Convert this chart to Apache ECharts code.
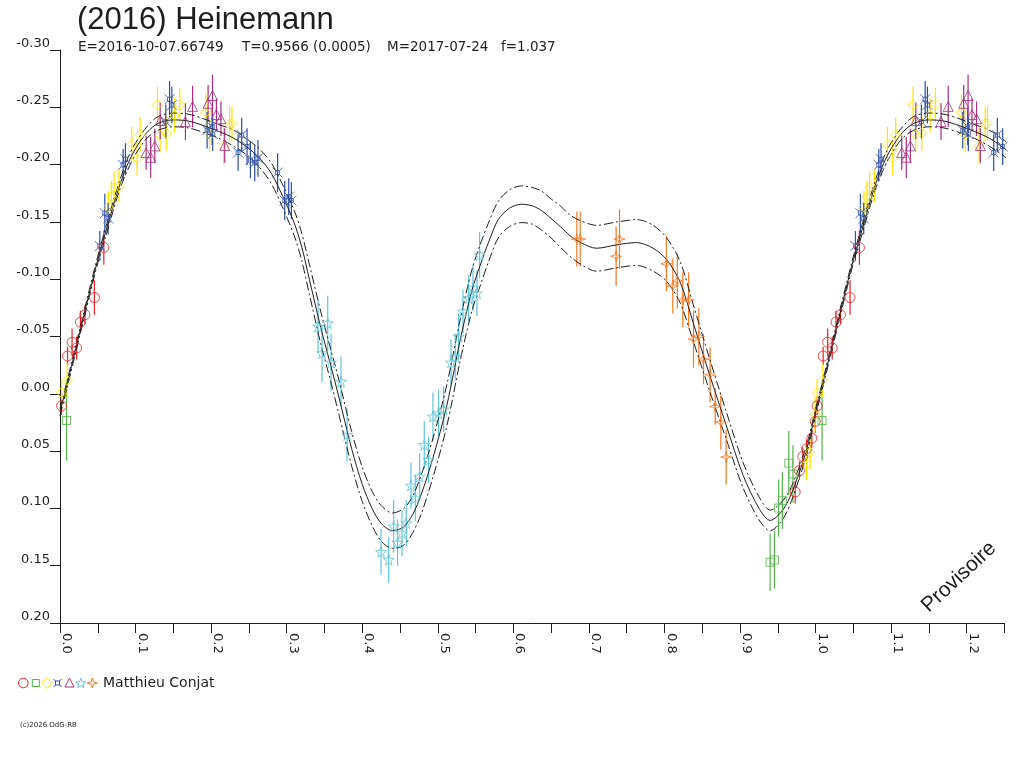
<!DOCTYPE html>
<html><head><meta charset="utf-8">
<script src="https://cdn.jsdelivr.net/npm/echarts/dist/echarts.min.js"></script>
<style>html,body{margin:0;padding:0;background:#fff}#c{width:1024px;height:768px}</style>
</head><body><div id="c"></div>
<script>
// ---- fitted light curve (phase, magnitude) ----
const curvePhase = [0.000,0.010,0.020,0.030,0.040,0.050,0.060,0.070,0.080,0.090,0.100,0.115,0.130,0.150,0.170,0.190,0.210,0.230,0.250,0.265,0.280,0.295,0.310,0.320,0.330,0.345,0.357,0.368,0.386,0.400,0.413,0.425,0.440,0.455,0.467,0.478,0.494,0.512,0.530,0.545,0.556,0.567,0.580,0.595,0.611,0.625,0.637,0.650,0.662,0.675,0.689,0.710,0.737,0.763,0.785,0.803,0.821,0.838,0.860,0.882,0.904,0.926,0.940,0.957,0.970,0.988,1.000];
const curveMid   = [0.016,-0.010,-0.037,-0.064,-0.091,-0.117,-0.140,-0.163,-0.184,-0.201,-0.214,-0.228,-0.236,-0.239,-0.238,-0.234,-0.229,-0.223,-0.214,-0.205,-0.192,-0.172,-0.149,-0.128,-0.100,-0.058,-0.028,0.000,0.048,0.079,0.100,0.113,0.1195,0.116,0.105,0.088,0.055,0.010,-0.048,-0.090,-0.112,-0.132,-0.152,-0.162,-0.1654,-0.164,-0.160,-0.153,-0.146,-0.138,-0.132,-0.127,-0.130,-0.132,-0.127,-0.117,-0.097,-0.062,-0.016,0.028,0.071,0.101,0.1105,0.101,0.084,0.049,0.016];
const curveUpper = [0.013,-0.013,-0.040,-0.067,-0.094,-0.120,-0.144,-0.167,-0.188,-0.206,-0.219,-0.233,-0.242,-0.245,-0.244,-0.240,-0.235,-0.230,-0.221,-0.213,-0.201,-0.182,-0.160,-0.140,-0.113,-0.072,-0.042,-0.015,0.033,0.064,0.085,0.0975,0.104,0.100,0.089,0.071,0.038,-0.008,-0.066,-0.108,-0.130,-0.149,-0.168,-0.178,-0.1814,-0.180,-0.177,-0.170,-0.164,-0.156,-0.151,-0.147,-0.150,-0.152,-0.147,-0.136,-0.115,-0.078,-0.030,0.016,0.060,0.091,0.1015,0.093,0.078,0.045,0.013];
const curveLower = [0.019,-0.007,-0.034,-0.061,-0.088,-0.114,-0.136,-0.159,-0.180,-0.196,-0.209,-0.223,-0.230,-0.233,-0.232,-0.228,-0.223,-0.216,-0.207,-0.197,-0.183,-0.162,-0.138,-0.116,-0.087,-0.044,-0.014,0.015,0.063,0.094,0.115,0.1285,0.135,0.132,0.121,0.105,0.072,0.028,-0.030,-0.072,-0.094,-0.115,-0.136,-0.146,-0.1494,-0.148,-0.143,-0.136,-0.128,-0.120,-0.113,-0.107,-0.110,-0.112,-0.107,-0.098,-0.079,-0.046,-0.002,0.040,0.082,0.111,0.1195,0.109,0.090,0.053,0.019];

// ---- observations [phase, magnitude, error] ----
const redCircles = [[0.002,0.0105,0.008],[0.010,-0.033,0.008],[0.016,-0.045,0.012],[0.022,-0.040,0.010],[0.027,-0.0625,0.010],[0.033,-0.069,0.008],[0.0456,-0.084,0.015],[0.058,-0.1276,0.015],[0.9995,0.024,0.010],[0.995,0.0387,0.008],[0.988,0.048,0.008],[0.983,0.0547,0.008],[0.9786,0.067,0.008],[0.973,0.0857,0.010]];
const greenSquares = [[0.0086,0.0233,0.035],[0.9398,0.147,0.025],[0.9455,0.145,0.025],[0.951,0.0997,0.025],[0.956,0.093,0.025],[0.9645,0.0605,0.028],[0.970,0.070,0.025]];
const yellowDiamonds = [[0.002,-0.001,0.012],[0.0095,-0.0116,0.015],[0.064,-0.163,0.014],[0.068,-0.172,0.014],[0.0716,-0.180,0.014],[0.078,-0.181,0.014],[0.095,-0.218,0.015],[0.102,-0.2055,0.015],[0.106,-0.226,0.015],[0.129,-0.252,0.016],[0.1325,-0.2258,0.015],[0.1406,-0.2273,0.015],[0.1515,-0.243,0.015],[0.1585,-0.252,0.015],[0.193,-0.2456,0.016],[0.198,-0.2258,0.015],[0.2165,-0.2163,0.016],[0.2245,-0.2355,0.015],[0.2275,-0.236,0.015],[0.9993,0.018,0.015],[0.9927,0.051,0.015],[0.988,0.0605,0.015]];
const blueCrosses = [[0.0527,-0.129,0.013],[0.0593,-0.1576,0.017],[0.0637,-0.153,0.014],[0.0836,-0.1997,0.014],[0.0866,-0.2047,0.014],[0.140,-0.2375,0.015],[0.145,-0.257,0.016],[0.148,-0.252,0.016],[0.1947,-0.230,0.016],[0.2013,-0.233,0.016],[0.2021,-0.2267,0.015],[0.2357,-0.2105,0.016],[0.2405,-0.2258,0.015],[0.2476,-0.2157,0.016],[0.252,-0.204,0.016],[0.2577,-0.2015,0.016],[0.262,-0.2055,0.016],[0.288,-0.193,0.017],[0.2974,-0.1686,0.017],[0.3027,-0.172,0.016],[0.3062,-0.1686,0.016]];
const purpleTriangles = [[0.114,-0.2105,0.015],[0.120,-0.2064,0.018],[0.1255,-0.2163,0.015],[0.1326,-0.2384,0.016],[0.166,-0.2375,0.016],[0.1755,-0.2508,0.018],[0.196,-0.2535,0.016],[0.2018,-0.2603,0.018],[0.207,-0.2437,0.014],[0.213,-0.240,0.015],[0.218,-0.2167,0.015]];
const cyanStars = [[0.3415,-0.0587,0.023],[0.3468,-0.0355,0.025],[0.3543,-0.0616,0.024],[0.3587,-0.0273,0.025],[0.3719,-0.0107,0.022],[0.3799,0.0358,0.023],[0.4249,0.138,0.020],[0.435,0.1448,0.020],[0.4416,0.1157,0.023],[0.4468,0.130,0.020],[0.4526,0.1215,0.020],[0.4583,0.1128,0.020],[0.4645,0.080,0.020],[0.4702,0.091,0.020],[0.476,0.0721,0.020],[0.4821,0.0445,0.021],[0.4878,0.0576,0.020],[0.4936,0.0198,0.021],[0.501,0.0169,0.020],[0.5077,0.0134,0.020],[0.5175,-0.0273,0.020],[0.5231,-0.0325,0.020],[0.5275,-0.050,0.020],[0.5333,-0.0718,0.019],[0.5408,-0.0834,0.020],[0.5466,-0.0922,0.020],[0.5518,-0.0878,0.020],[0.5553,-0.1212,0.020]];
const orangeStars = [[0.684,-0.135,0.024],[0.6885,-0.135,0.024],[0.7405,-0.135,0.026],[0.736,-0.120,0.026],[0.8025,-0.1134,0.024],[0.811,-0.094,0.024],[0.817,-0.0985,0.024],[0.8243,-0.082,0.024],[0.832,-0.082,0.024],[0.8384,-0.0477,0.025],[0.8455,-0.050,0.025],[0.8516,-0.0303,0.022],[0.8604,-0.0166,0.024],[0.8671,0.011,0.016],[0.8746,0.0247,0.024],[0.8816,0.0552,0.024]];

const titleText = '(2016) Heinemann';
const subtitleParts = ['E=2016-10-07.66749', 'T=0.9566 (0.0005)', 'M=2017-07-24', 'f=1.037'];
const observerName = 'Matthieu Conjat';
const copyrightText = '(c)2026 OdG-RB';
const watermark = 'Provisoire';

// ---- styling ----
const COL = {red:'#e8232b', green:'#52b548', yellow:'#ffe500', blue:'#2e4ea6', purple:'#a8307f', cyan:'#5ec6da', orange:'#f47a26', ink:'#1e1e1e'};
const SYM_BLUE = 'path://M3,3L7,3L7,7L3,7Z M0,0L3,3 M10,0L7,3 M10,10L7,7 M0,10L3,7';
const SYM_STAR5 = 'path://M5,0L6.18,3.38L9.76,3.45L6.9,5.62L7.94,9.05L5,7L2.06,9.05L3.1,5.62L0.24,3.45L3.82,3.38Z';
const SYM_STAR4 = 'path://M5,0L6.1,3.9L10,5L6.1,6.1L5,10L3.9,6.1L0,5L3.9,3.9Z';

function withWrap(arr, idx) {
  // the phase diagram repeats phases 0..0.25 after 1.0
  return arr.concat(arr.filter(d => d[idx] <= 0.3).map(d => { const c = d.slice(); c[idx] = c[idx] + 1; return c; }));
}
function curveData(vals) {
  const pts = curvePhase.map((p, i) => [p, vals[i]]);
  return withWrap(pts, 0);
}
function curveSeries(vals, dashed) {
  return {type:'line', data: curveData(vals), showSymbol:false, smooth:0.3, clip:true, silent:true, z:3,
    lineStyle:{color:COL.ink, width:1, type: dashed ? [9,3,2,3] : 'solid'}};
}
function observer(data, symbol, size, color) {
  const d = withWrap(data, 0);
  return [
    {type:'custom', data:d, clip:true, silent:true, z:2, encode:{x:0, y:1},
     renderItem:(params, api) => {
       const x = api.value(0), y = api.value(1), e = api.value(2);
       const a = api.coord([x, y - e]), b = api.coord([x, y + e]);
       return {type:'line', shape:{x1:a[0], y1:a[1], x2:b[0], y2:b[1]}, style:{stroke:color, lineWidth:1.2}};
     }},
    {type:'scatter', data:d.map(p => [p[0], p[1]]), symbol, symbolSize:size, clip:true, silent:true, z:4,
     itemStyle:{color:'rgba(0,0,0,0)', borderColor:color, borderWidth:1}}
  ];
}

function polyPts(cx, cy, r1, r2, n, rot) {
  const pts = [];
  for (let i = 0; i < 2 * n; i++) {
    const a = rot + i * Math.PI / n;
    const r = i % 2 === 0 ? r1 : r2;
    pts.push([cx + r * Math.sin(a), cy - r * Math.cos(a)]);
  }
  return pts;
}
const LY = 683;
const legendGraphics = [
  {type:'circle', shape:{cx:23.3, cy:LY, r:4.8}, style:{fill:'none', stroke:COL.red, lineWidth:1}},
  {type:'rect', shape:{x:32.3, y:LY-3.5, width:7, height:7}, style:{fill:'none', stroke:COL.green, lineWidth:1}},
  {type:'polygon', shape:{points:[[47,LY-5.3],[52.3,LY],[47,LY+5.3],[41.7,LY]]}, style:{fill:'none', stroke:COL.yellow, lineWidth:1}},
  {type:'group', children:[
    {type:'rect', shape:{x:55.5, y:LY-2, width:4, height:4}, style:{fill:'none', stroke:COL.blue, lineWidth:1}},
    {type:'line', shape:{x1:53.5, y1:LY-4, x2:55.5, y2:LY-2}, style:{stroke:COL.blue, lineWidth:1}},
    {type:'line', shape:{x1:61.5, y1:LY-4, x2:59.5, y2:LY-2}, style:{stroke:COL.blue, lineWidth:1}},
    {type:'line', shape:{x1:53.5, y1:LY+4, x2:55.5, y2:LY+2}, style:{stroke:COL.blue, lineWidth:1}},
    {type:'line', shape:{x1:61.5, y1:LY+4, x2:59.5, y2:LY+2}, style:{stroke:COL.blue, lineWidth:1}}
  ]},
  {type:'polygon', shape:{points:[[69.5,LY-5],[74,LY+4],[65,LY+4]]}, style:{fill:'none', stroke:COL.purple, lineWidth:1}},
  {type:'polygon', shape:{points:polyPts(80.8, LY+0.5, 5.2, 2.2, 5, 0)}, style:{fill:'none', stroke:COL.cyan, lineWidth:1}},
  {type:'polygon', shape:{points:polyPts(92.3, LY, 5, 1.6, 4, 0)}, style:{fill:'none', stroke:COL.orange, lineWidth:1}},
  {type:'text', left:103, top:LY-7, style:{text:observerName, font:'14px "DejaVu Sans"', fill:COL.ink}}
];

const subX = [78, 242, 387, 501];
const graphics = [
  {type:'text', left:77, top:5, style:{text:titleText, font:'31px "Liberation Sans"', fill:COL.ink}},
  ...subtitleParts.map((t, i) => ({type:'text', left:subX[i], top:40, style:{text:t, font:'13.5px "DejaVu Sans"', fill:COL.ink}})),
  ...legendGraphics,
  {type:'text', left:20, top:722, style:{text:copyrightText, font:'7px "DejaVu Sans"', fill:COL.ink}},
  {type:'text', x:959, y:577, rotation:0.75, style:{text:watermark, font:'21px "Liberation Sans"', fill:COL.ink, align:'center', verticalAlign:'middle'}}
];

const chart = echarts.init(document.getElementById('c'), null, {renderer:'canvas'});
chart.setOption({
  animation:false,
  backgroundColor:'#fff',
  grid:{left:60, right:19.5, top:50, bottom:145, containLabel:false},
  xAxis:{type:'value', min:0, max:1.25, interval:0.05,
    axisLine:{onZero:false, lineStyle:{color:COL.ink, width:1}},
    axisTick:{show:true, length:10, lineStyle:{color:COL.ink, width:1}},
    axisLabel:{rotate:-90, margin:10, verticalAlign:'bottom', fontFamily:'DejaVu Sans', fontSize:13, color:COL.ink,
      formatter:v => (Math.round(v * 100) % 10 === 0) ? v.toFixed(1) : ''},
    splitLine:{show:false}},
  yAxis:{type:'value', inverse:true, min:-0.30, max:0.20, interval:0.05,
    axisLine:{show:true, onZero:false, lineStyle:{color:COL.ink, width:1}},
    axisTick:{show:true, length:10, lineStyle:{color:COL.ink, width:1}},
    axisLabel:{margin:10, verticalAlign:'bottom', fontFamily:'DejaVu Sans', fontSize:13, color:COL.ink,
      formatter:v => Math.abs(v) < 1e-9 ? '0.00' : v.toFixed(2)},
    splitLine:{show:false}},
  graphic:graphics,
  series:[
    curveSeries(curveMid, false),
    curveSeries(curveUpper, true),
    curveSeries(curveLower, true),
    ...observer(redCircles, 'circle', 10, COL.red),
    ...observer(greenSquares, 'rect', 8, COL.green),
    ...observer(yellowDiamonds, 'diamond', 10, COL.yellow),
    ...observer(blueCrosses, SYM_BLUE, 10, COL.blue),
    ...observer(purpleTriangles, 'triangle', 10, COL.purple),
    ...observer(cyanStars, SYM_STAR5, 11, COL.cyan),
    ...observer(orangeStars, SYM_STAR4, 11, COL.orange)
  ]
});
</script>
</body></html>
